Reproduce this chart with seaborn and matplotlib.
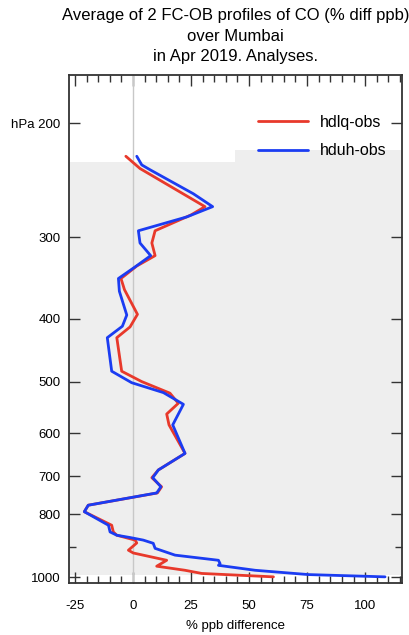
import numpy as np
import pandas as pd
import matplotlib
matplotlib.use("Agg")
import matplotlib.pyplot as plt
import seaborn as sns
from matplotlib.ticker import FixedLocator, FixedFormatter, MultipleLocator, NullFormatter

# ---- data ----
hdlq_p = [225, 235, 269, 277, 293, 306, 320, 332, 347, 361, 394, 412, 428, 482, 500, 521,
          540, 561, 583, 645, 684, 703, 726, 742, 775, 793, 832, 852, 862, 877, 886, 909,
          918, 942, 962, 976, 987, 999]
hdlq_v = [-3.1, 3.0, 31.0, 25.0, 9.5, 8.1, 9.5, 1.6, -5.2, -3.7, 1.9, -1.3, -7.0, -4.9, 3.7, 15.9,
          19.5, 14.5, 15.5, 22.4, 10.9, 8.1, 12.3, 10.5, -19.3, -21.0, -9.2, -8.5, -7.0, 0.9, 1.6, -2.0,
          0.1, 14.5, 10.2, 22.4, 29.6, 60.5]

hduh_p = [225, 232, 236, 257, 269, 279, 293, 306, 320, 333, 347, 363, 395, 411, 428, 482, 502,
          520, 542, 583, 645, 684, 703, 726, 742, 775, 793, 832, 852, 862, 869, 877, 887, 903,
          925, 942, 953, 959, 976, 991, 999]
hduh_v = [1.6, 3.75, 7.3, 26.0, 34.3, 23.1, 2.3, 3.0, 7.6, 0.9, -6.3, -5.9, -2.7, -4.6, -11.1, -9.2, -0.6,
          13.1, 21.7, 17.1, 22.4, 10.9, 8.5, 12.0, 10.2, -19.3, -21.0, -10.6, -9.9, -7.0, -1.3, 4.4, 8.7, 9.5,
          18.1, 36.8, 37.5, 36.8, 52.6, 75.6, 108.6]

series_names = ["hdlq-obs", "hduh-obs"]
series_colors = ["#e8392b", "#1b3cf2"]

# grey data-coverage shading (x-edges and top pressures)
shade_x = [-27.6, 44.0, 115.9]
shade_top = [230, 220]
shade_bottom = 993

y_ticks = [200, 300, 400, 500, 600, 700, 800, 1000]
y_ticklabels = ["hPa 200", "300", "400", "500", "600", "700", "800", "1000"]
y_minor = [900]

df = pd.concat([
    pd.DataFrame({"pressure": hdlq_p, "diff": hdlq_v, "series": series_names[0]}),
    pd.DataFrame({"pressure": hduh_p, "diff": hduh_v, "series": series_names[1]}),
], ignore_index=True)

sns.set_style("white")
plt.rcParams["font.family"] = ["Liberation Sans", "DejaVu Sans"]
plt.rcParams["text.color"] = "black"
plt.rcParams["xtick.color"] = "black"
plt.rcParams["ytick.color"] = "black"
plt.rcParams["axes.unicode_minus"] = False

fig = plt.figure(figsize=(4.09, 6.35), dpi=100)
ax = fig.add_axes([69 / 409, 1 - 583 / 635, 333 / 409, 508 / 635])

# background shading
for i in range(len(shade_top)):
    ax.fill_betweenx([shade_top[i], shade_bottom], shade_x[i], shade_x[i + 1],
                     color="#eeeeee", lw=0, zorder=0)
ax.axvline(0, color="#c8c8c8", lw=1.0, zorder=1)

sns.lineplot(data=df, x="diff", y="pressure", hue="series", palette=series_colors,
             hue_order=series_names, estimator=None, sort=False, orient="y",
             lw=2.0, ax=ax, zorder=3)

ax.set_yscale("log")
ax.set_ylim(1021, 168.7)
ax.set_xlim(shade_x[0], shade_x[-1])

ax.yaxis.set_major_locator(FixedLocator(y_ticks))
ax.yaxis.set_major_formatter(FixedFormatter(y_ticklabels))
ax.yaxis.set_minor_locator(FixedLocator(y_minor))
ax.yaxis.set_minor_formatter(NullFormatter())
ax.xaxis.set_major_locator(MultipleLocator(25))
ax.xaxis.set_minor_locator(MultipleLocator(5))

ax.tick_params(which="both", direction="in", top=True, right=True, left=True, bottom=True,
               color="#333333", labelcolor="black")
ax.tick_params(which="major", length=8, width=1.0)
ax.tick_params(which="minor", length=5, width=1.0)
ax.tick_params(axis="x", which="major", labelsize=9.5, pad=12)
ax.tick_params(axis="y", which="major", labelsize=9.5, pad=6)

for s in ax.spines.values():
    s.set_color("#333333")
    s.set_linewidth(1.3)

ax.set_xlabel("% ppb difference", fontsize=9.5, labelpad=6, color="black")
ax.set_ylabel("")
ax.set_title("Average of 2 FC-OB profiles of CO (% diff ppb)\nover Mumbai\nin Apr 2019. Analyses.",
             fontsize=12, linespacing=1.45, pad=10, color="black")

leg = ax.legend(frameon=False, loc="upper left", bbox_to_anchor=(0.5676, 0.922),
                borderpad=0, borderaxespad=0, handlelength=3.1, handletextpad=0.75,
                labelspacing=0.85, fontsize=11.5)
for t in leg.get_texts():
    t.set_color("black")

fig.savefig("out.png", dpi=100)
